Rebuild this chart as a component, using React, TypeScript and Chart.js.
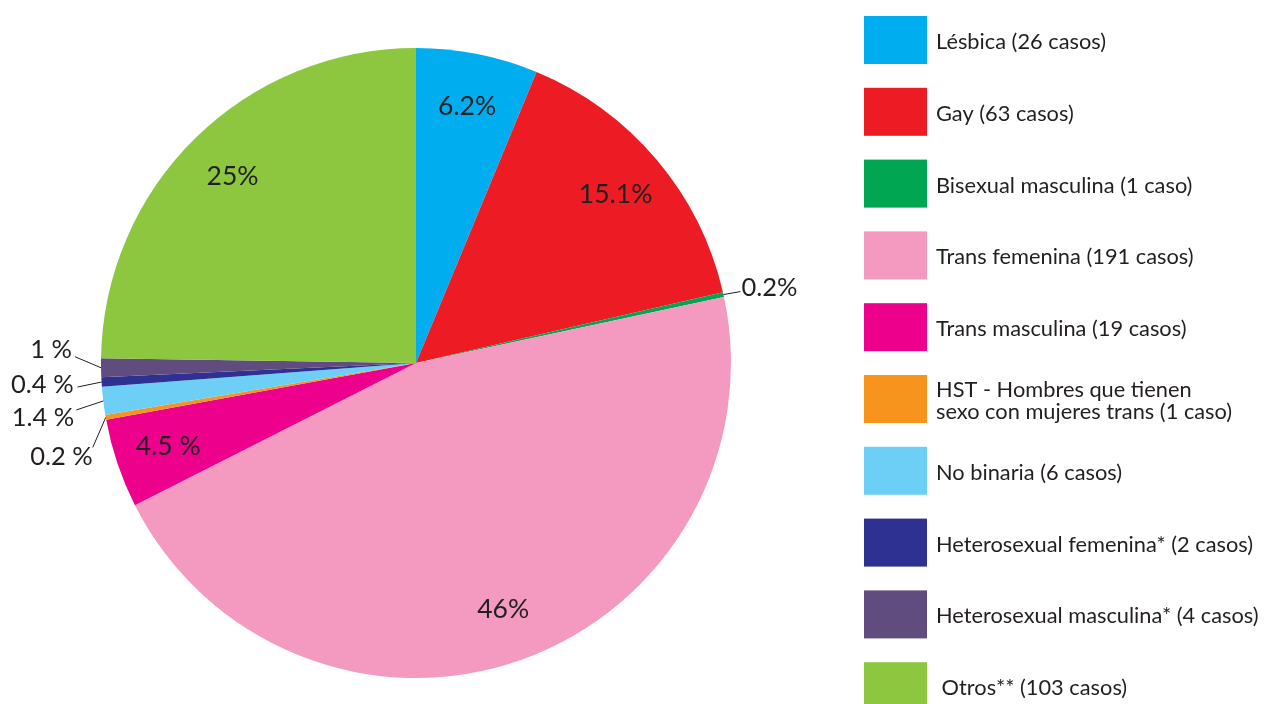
import React, { useEffect, useRef } from "react";
import { Chart, registerables } from "chart.js";

Chart.register(...registerables);

const categories = [
  "Lésbica (26 casos)",
  "Gay (63 casos)",
  "Bisexual masculina (1 caso)",
  "Trans femenina (191 casos)",
  "Trans masculina (19 casos)",
  "HST - Hombres que tienen\nsexo con mujeres trans (1 caso)",
  "No binaria (6 casos)",
  "Heterosexual femenina* (2 casos)",
  "Heterosexual masculina* (4 casos)",
  " Otros** (103 casos)",
];
const cases = [26, 63, 1, 191, 19, 1, 6, 2, 4, 103];
const pctLabels = ["6.2%", "15.1%", "0.2%", "46%", "4.5 %", "0.2 %", "1.4 %", "0.4 %", "1 %", "25%"];
const colors = [
  "#00AEEF",
  "#ED1C24",
  "#00A651",
  "#F49AC1",
  "#EC008C",
  "#F7941D",
  "#6DCFF6",
  "#2E3192",
  "#604C7E",
  "#8DC63F",
];

// leader-line layout for the thin slices: [lineEndDx, lineEndDy, textDx, textDy, align]
const leaderLayout: Record<number, [number, number, number, number, CanvasTextAlign]> = {
  2: [17, -3, 1, -4, "left"],
  5: [-13, 30, 0, 9, "right"],
  6: [-27, 9, -2, 8, "right"],
  7: [-24, 5, -4, -2, "right"],
  8: [-26, -11, -3, -7, "right"],
};

const TEXT = "#231F20";
const FONT = "Lato, 'Open Sans', sans-serif";

const overlay = {
  id: "overlay",
  afterDraw(chart: any) {
    const ctx: CanvasRenderingContext2D = chart.ctx;
    const meta = chart.getDatasetMeta(0);
    ctx.save();
    ctx.fillStyle = TEXT;
    ctx.strokeStyle = TEXT;
    ctx.textBaseline = "middle";
    meta.data.forEach((arc: any, i: number) => {
      const { x, y, startAngle, endAngle, outerRadius } = arc.getProps(
        ["x", "y", "startAngle", "endAngle", "outerRadius"],
        true
      );
      const a = (startAngle + endAngle) / 2;
      const lay = leaderLayout[i];
      if (!lay) {
        const r = outerRadius * 0.83;
        ctx.font = `26.5px ${FONT}`;
        ctx.textAlign = "center";
        ctx.fillText(pctLabels[i], x + Math.cos(a) * r, y + Math.sin(a) * r);
      } else {
        const ex = x + Math.cos(a) * outerRadius;
        const ey = y + Math.sin(a) * outerRadius;
        const lx = ex + lay[0];
        const ly = ey + lay[1];
        ctx.lineWidth = 1;
        ctx.beginPath();
        ctx.moveTo(ex, ey);
        ctx.lineTo(lx, ly);
        ctx.stroke();
        ctx.font = `25.5px ${FONT}`;
        ctx.textAlign = lay[4];
        ctx.fillText(pctLabels[i], lx + lay[2], ly + lay[3]);
      }
    });

    // legend
    const boxX = 864;
    const boxW = 63;
    const boxH = 48;
    const top = 16;
    const step = 71.8;
    ctx.font = `21.8px ${FONT}`;
    ctx.textAlign = "left";
    categories.forEach((lab, i) => {
      const by = top + i * step;
      ctx.fillStyle = colors[i];
      ctx.fillRect(boxX, by, boxW, boxH);
      ctx.fillStyle = TEXT;
      const lines = lab.split("\n");
      const lh = 22;
      const cy = by + boxH / 2 + 2 - ((lines.length - 1) * lh) / 2;
      lines.forEach((ln, k) => ctx.fillText(ln, 936, cy + k * lh));
    });
    ctx.restore();
  },
};

export default function App() {
  const ref = useRef<HTMLCanvasElement>(null);
  useEffect(() => {
    document.body.style.margin = "0";
    const chart = new Chart(ref.current!, {
      type: "pie",
      data: {
        labels: categories,
        datasets: [
          {
            data: cases,
            backgroundColor: colors,
            borderWidth: 0,
          },
        ],
      },
      options: {
        animation: false,
        responsive: false,
        devicePixelRatio: 1,
        layout: { padding: { left: 101, right: 538, top: 48, bottom: 26 } },
        plugins: {
          legend: { display: false },
          tooltip: { enabled: false },
        },
      },
      plugins: [overlay],
    });
    return () => chart.destroy();
  }, []);
  return (
    <div style={{ position: "fixed", left: 0, top: 0, width: 1269, height: 704, background: "#fff" }}>
      <canvas ref={ref} width={1269} height={704} />
    </div>
  );
}
